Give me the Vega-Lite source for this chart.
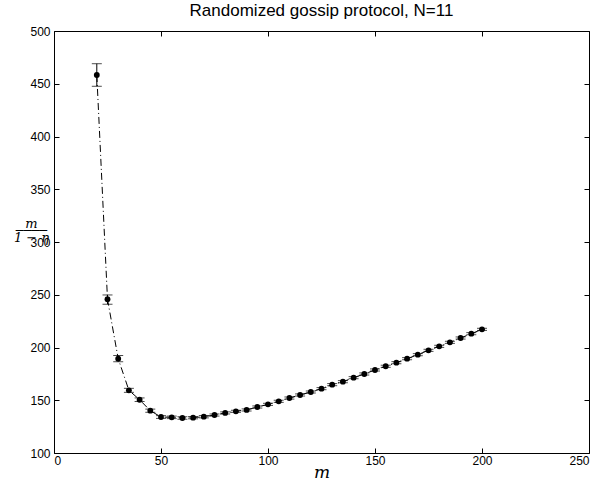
{
  "$schema": "https://vega.github.io/schema/vega-lite/v6.json",
  "autosize": "none",
  "width": 535,
  "height": 422,
  "padding": {"left": 54, "top": 31, "right": 12, "bottom": 35},
  "background": "white",
  "config": {
    "view": {"stroke": "black", "strokeWidth": 1},
    "axis": {"grid": false, "domain": false, "tickColor": "black", "labelColor": "black", "labelFont": "Liberation Sans", "labelFontSize": 12, "tickSize": 5, "tickWidth": 1, "offset": -5}
  },
  "title": {"text": "Randomized gossip protocol, N=11", "font": "Liberation Sans", "fontSize": 17, "fontWeight": "normal", "color": "black", "anchor": "middle", "offset": 5},
  "data": {"values": [
    {"m": 20, "v": 458.3, "lo": 447.6, "hi": 469.0},
    {"m": 25, "v": 245.7, "lo": 241.0, "hi": 249.8},
    {"m": 30, "v": 189.4, "lo": 186.5, "hi": 192.4},
    {"m": 35, "v": 159.4, "lo": 157.5, "hi": 161.3},
    {"m": 40, "v": 150.5, "lo": 148.8, "hi": 152.2},
    {"m": 45, "v": 140.1, "lo": 138.6, "hi": 141.6},
    {"m": 50, "v": 134.1, "lo": 132.8, "hi": 135.4},
    {"m": 55, "v": 133.8, "lo": 132.6, "hi": 135.0},
    {"m": 60, "v": 133.2, "lo": 132.0, "hi": 134.4},
    {"m": 65, "v": 133.5, "lo": 132.4, "hi": 134.6},
    {"m": 70, "v": 134.4, "lo": 133.3, "hi": 135.5},
    {"m": 75, "v": 136.0, "lo": 135.0, "hi": 137.0},
    {"m": 80, "v": 138.0, "lo": 137.0, "hi": 139.0},
    {"m": 85, "v": 139.5, "lo": 138.5, "hi": 140.5},
    {"m": 90, "v": 140.8, "lo": 139.8, "hi": 141.8},
    {"m": 95, "v": 143.6, "lo": 142.6, "hi": 144.6},
    {"m": 100, "v": 146.1, "lo": 145.1, "hi": 147.1},
    {"m": 105, "v": 149.0, "lo": 148.0, "hi": 150.0},
    {"m": 110, "v": 152.1, "lo": 151.1, "hi": 153.1},
    {"m": 115, "v": 155.0, "lo": 154.0, "hi": 156.0},
    {"m": 120, "v": 157.8, "lo": 156.8, "hi": 158.8},
    {"m": 125, "v": 161.0, "lo": 160.0, "hi": 162.0},
    {"m": 130, "v": 164.8, "lo": 163.8, "hi": 165.8},
    {"m": 135, "v": 167.6, "lo": 166.6, "hi": 168.6},
    {"m": 140, "v": 171.4, "lo": 170.4, "hi": 172.4},
    {"m": 145, "v": 174.9, "lo": 173.9, "hi": 175.9},
    {"m": 150, "v": 178.7, "lo": 177.7, "hi": 179.7},
    {"m": 155, "v": 182.2, "lo": 181.2, "hi": 183.2},
    {"m": 160, "v": 185.6, "lo": 184.6, "hi": 186.6},
    {"m": 165, "v": 189.4, "lo": 188.4, "hi": 190.4},
    {"m": 170, "v": 193.2, "lo": 192.2, "hi": 194.2},
    {"m": 175, "v": 197.3, "lo": 196.3, "hi": 198.3},
    {"m": 180, "v": 201.1, "lo": 200.1, "hi": 202.1},
    {"m": 185, "v": 204.9, "lo": 203.9, "hi": 205.9},
    {"m": 190, "v": 209.0, "lo": 208.0, "hi": 210.0},
    {"m": 195, "v": 213.1, "lo": 212.1, "hi": 214.1},
    {"m": 200, "v": 217.2, "lo": 216.2, "hi": 218.2}
  ]},
  "encoding": {
    "x": {"field": "m", "type": "quantitative", "scale": {"domain": [0, 250], "nice": false, "zero": false}},
    "y": {"field": "v", "type": "quantitative", "scale": {"domain": [100, 500], "nice": false, "zero": false}}
  },
  "resolve": {"axis": {"x": "independent", "y": "independent"}},
  "layer": [
    {
      "mark": {"type": "line", "color": "black", "strokeWidth": 1, "strokeDash": [7, 3, 1, 3]},
      "encoding": {
        "x": {"field": "m", "type": "quantitative", "axis": {"orient": "bottom", "values": [0, 50, 100, 150, 200, 250], "title": "m", "titleFont": "DejaVu Serif", "titleFontStyle": "italic", "titleFontWeight": "normal", "titleFontSize": 17, "titleColor": "black", "labelPadding": 2, "titlePadding": -2}},
        "y": {"field": "v", "type": "quantitative", "axis": {"orient": "left", "values": [100, 150, 200, 250, 300, 350, 400, 450, 500], "title": ["m", "────", "1 − η"], "titleFont": "DejaVu Serif", "titleFontStyle": "italic", "titleFontWeight": "normal", "titleFontSize": 13, "titleColor": "black", "titleAngle": 0, "titleAlign": "center", "titleBaseline": "middle", "titleX": -28, "titleY": 192, "titleLineHeight": 7, "labelPadding": 4}}
      }
    },
    {
      "mark": {"type": "rule", "color": "black", "strokeWidth": 1},
      "encoding": {
        "x": {"field": "m", "type": "quantitative", "axis": {"orient": "top", "values": [0, 50, 100, 150, 200, 250], "labels": false, "title": null}},
        "y": {"field": "lo", "type": "quantitative", "axis": {"orient": "right", "values": [100, 150, 200, 250, 300, 350, 400, 450, 500], "labels": false, "title": null}},
        "y2": {"field": "hi"}
      }
    },
    {
      "mark": {"type": "tick", "color": "black", "orient": "horizontal", "size": 10, "thickness": 1},
      "encoding": {
        "x": {"field": "m", "type": "quantitative", "axis": null},
        "y": {"field": "lo", "type": "quantitative", "axis": null}
      }
    },
    {
      "mark": {"type": "tick", "color": "black", "orient": "horizontal", "size": 10, "thickness": 1},
      "encoding": {
        "x": {"field": "m", "type": "quantitative", "axis": null},
        "y": {"field": "hi", "type": "quantitative", "axis": null}
      }
    },
    {
      "mark": {"type": "point", "filled": true, "color": "black", "opacity": 1, "size": 34},
      "encoding": {
        "x": {"field": "m", "type": "quantitative", "axis": null},
        "y": {"field": "v", "type": "quantitative", "axis": null}
      }
    }
  ]
}
